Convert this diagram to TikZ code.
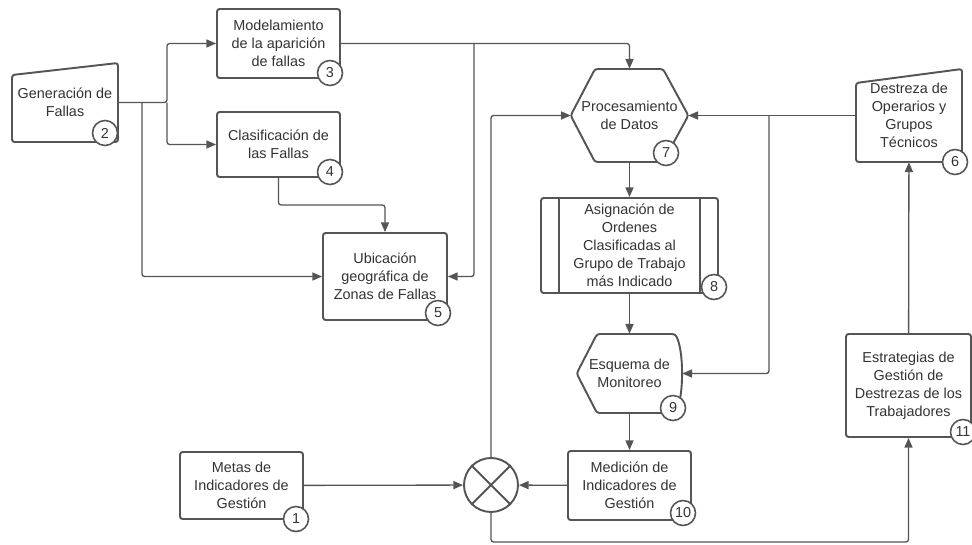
\documentclass[tikz,border=0pt]{standalone}
\usepackage{fontspec}
\setmainfont{Liberation Sans}
\usepackage{tikz}
\usetikzlibrary{arrows.meta}
\definecolor{ln}{HTML}{555555}
\definecolor{txt}{HTML}{333333}

\begin{document}
\begin{tikzpicture}
  [x=0.02cm,y=-0.02cm,>={Triangle[length=5.5pt,width=4.6pt]},
   every node/.style={font=\fontsize{8.2}{10.2}\selectfont,text=txt,align=center,inner sep=0pt},
   box/.style={draw=ln,line width=1.1pt,rounded corners=1.5pt,fill=white},
   shp/.style={draw=ln,line width=1.1pt,rounded corners=1.5pt},
   badge/.style={circle,draw=ln,line width=0.9pt,fill=white,minimum size=0.5cm},
   wire/.style={draw=ln,line width=0.75pt,rounded corners=1.5pt}]
  \path[use as bounding box,fill=white] (0,0) rectangle (972,544);

  \node[box,minimum width=2.46cm,minimum height=1.34cm] (n1) at (241.5,485.5) {Metas de\\Indicadores de\\Gestión};
  \node[minimum width=2.12cm,minimum height=1.58cm] (n2) at (65,102.5) {Generación de\\Fallas};
  \node[box,minimum width=2.46cm,minimum height=1.38cm] (n3) at (278.5,43.5) {Modelamiento\\de la aparición\\de fallas};
  \node[box,minimum width=2.46cm,minimum height=1.30cm] (n4) at (278.5,144.5) {Clasificación de\\las Fallas};
  \node[box,minimum width=2.48cm,minimum height=1.74cm] (n5) at (385,276.5) {Ubicación\\geográfica de\\Zonas de Fallas};
  \node[minimum width=2.12cm,minimum height=1.86cm] (n6) at (909,115.5) {Destreza de\\Operarios y\\Grupos\\Técnicos};
  \node[minimum width=2.34cm,minimum height=1.86cm] (n7) at (629.5,115.5) {Procesamiento\\de Datos};
  \node[box,minimum width=3.54cm,minimum height=1.9cm] (n8) at (629.5,245.5) {Asignación de\\Ordenes\\Clasificadas al\\Grupo de Trabajo\\más Indicado};
  \node[minimum width=2.1cm,minimum height=1.58cm] (n9) at (629.5,373.5) {Esquema de\\Monitoreo};
  \node[box,minimum width=2.46cm,minimum height=1.38cm] (n10) at (629.5,485.5) {Medición de\\Indicadores de\\Gestión};
  \node[box,minimum width=2.5cm,minimum height=2.06cm] (n11) at (908.5,385.5) {Estrategias de\\Gestión de\\Destrezas de los\\Trabajadores};
  \node[circle,draw=ln,line width=1.1pt,minimum size=1.08cm] (sum) at (491,485) {};

  % outlines of the shaped nodes
  \draw[shp] (12,142) -- (12,75) -- (118,63) -- (118,142) -- cycle;
  \draw[shp] (856,162) -- (856,83) -- (962,69) -- (962,162) -- cycle;
  \draw[shp] (n7.west) -- (595,69) -- (663,69) -- (n7.east) -- (663,162) -- (595,162) -- cycle;
  \draw[shp] (n9.west) -- (597,334) -- (675,334) .. controls (684,350) and (684,397) .. (675,413) -- (597,413) -- cycle;
  \draw[ln,line width=1.1pt] (559,198) -- (559,293) (700,198) -- (700,293);
  \draw[ln,line width=1.1pt] (sum.north west) -- (sum.south east) (sum.north east) -- (sum.south west);

  \coordinate (j1) at (167,102.5);
  \coordinate (j2) at (142,102.5);
  \coordinate (j3) at (474,43.5);
  \coordinate (j4) at (278.5,205);
  \coordinate (j6) at (769,115.5);
  \coordinate (j7) at (491,542);

  \draw[wire,->] (n2.east) -- (j1) |- (n3.west);
  \draw[wire,->] (j1) |- (n4.west);
  \draw[wire,->] (j2) |- (n5.west);
  \draw[wire,->] (n3.east) -| (n7.north);
  \draw[wire,->] (j3) |- (n5.east);
  \draw[wire,->] (n4.south) -- (j4) -| (n5.north);
  \draw[wire,->] (j6) |- (n9.east);
  \draw[wire,->] (sum.north) |- (n7.west);
  \draw[wire,->] (sum.south) -- (j7) -| (n11.south);
  \foreach \from/\to in {n7/n8,n8/n9,n9/n10,n1/sum,n10/sum,n11/n6,n6/n7}
    \draw[wire,->] (\from) -- (\to);

  % numbered badges
  \foreach \n/\x/\y in {1/296/519,2/105/133,3/330/73,4/330/172,5/438/313,6/955/162,
                        7/666/153,8/714/287,9/673/408,10/683/513,11/963/432}
    \node[badge] (c\n) at (\x,\y) {\n};

\end{tikzpicture}
\end{document}
